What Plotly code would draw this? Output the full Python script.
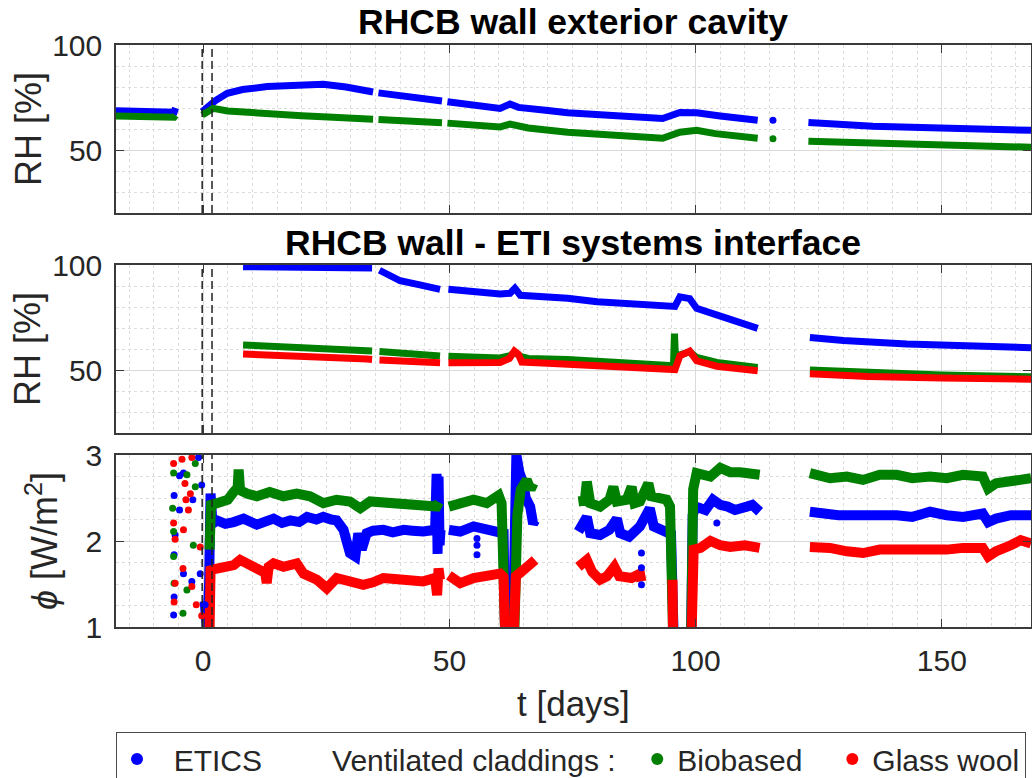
import plotly.graph_objects as go

# ---------------- data ----------------
# Top panel: RHCB wall exterior cavity, RH [%]
top_etics_t = [-17.7, -12, -7, -5.9, -5.6, None, -0.2, 1, 2.5, 4.9, 8, 13, 19.7, 24.4, 29, 34.5, None,
               35.6, 42, 48.5, None, 49.6, 55, 60.3, 62.3, 64, 70, 74, 84, 93.3, 96.8, 100.2, 105, 112.6, None,
               122.9, 136, 149.7, 168.1]
top_etics_rh = [68.7, 68.2, 67.8, 68.0, 70.0, None, 68.2, 70.5, 73.5, 77.0, 78.8, 80.2, 81.3, 81.3, 80.0, 77.6, None,
                77.2, 75.2, 73.3, None, 73.0, 71.5, 69.8, 71.9, 70.3, 68.8, 67.7, 66.3, 65.0, 67.9, 67.7, 66.2, 64.2, None,
                63.1, 61.3, 60.5, 59.4]
top_bio_t = [-17.7, -12, -7, -5.9, -5.6, None, -0.2, 2, 5, 8, 13, 20, 26.4, 34.5, None, 35.6, 42, 48.5, None,
             49.6, 55, 60.3, 62.3, 66, 74, 84, 93.3, 96.8, 100.2, 104, 112.6, None, 122.9, 136, 149.7, 168.1]
top_bio_rh = [66.2, 66.0, 65.8, 65.6, 66.5, None, 66.7, 69.8, 68.6, 68.0, 67.1, 66.3, 65.6, 64.6, None, 64.5, 63.8, 63.0, None,
              62.8, 61.8, 61.0, 62.3, 60.5, 58.5, 57.0, 55.6, 58.5, 59.4, 57.8, 55.6, None, 54.2, 53.2, 52.1, 51.3]
top_dot_t = [115.7]
top_dot_etics = [64.2]
top_dot_bio = [55.3]

# Middle panel: RHCB wall - ETI systems interface, RH [%]
mid_etics_t = [8.1, 20, 33.3, 34.3, None, 35.8, 36.5, 38, 40, 44, 48.1, None, 49.8, 55, 60.3, 62.3, 63.3, 64.4,
               70, 74, 80, 88, 93.3, 95.8, 96.8, 98.8, 100.2, 102, 104.3, 108, 112.6, None, 123.2, 130, 142.9, 155, 168.1]
mid_etics_rh = [99.2, 99.2, 99.2, 98.6, None, 97.5, 96.8, 94.5, 92.5, 90.5, 88.4, None, 88.4, 87.2, 86.2, 86.5, 88.9, 85.6,
                84.8, 84.2, 82.5, 81.2, 80.0, 80.3, 84.8, 84.0, 79.4, 78.0, 76.3, 73.5, 69.8, None, 65.5, 64.0, 62.4, 61.3, 60.6]
mid_bio_t = [8.1, 20, 33.3, 34.3, None, 35.8, 40, 48.1, None, 49.8, 55, 60.3, 62.3, 63.3, 64.4, 66, 74, 85,
             93.3, 95.5, 95.7, 95.9, 96.8, 98.8, 100.2, 104.3, 112.6, None, 123.2, 135, 150, 168.1]
mid_bio_rh = [61.9, 60.8, 59.2, 59.0, None, 58.8, 58.0, 56.7, None, 56.6, 56.0, 55.7, 56.8, 58.5, 56.5, 55.5, 55.0, 53.5,
              51.8, 52.0, 67.3, 56.5, 57.2, 58.6, 56.0, 53.6, 51.2, None, 50.0, 48.6, 47.6, 46.8]
mid_glass_t = [8.1, 20, 33.3, 34.3, None, 35.8, 40, 48.1, None, 49.8, 55, 60.3, 62.2, 63.2, 64.0, 64.7, 70, 79.9,
               88, 93.3, 95.8, 96.8, 98.8, 100.2, 102, 104.3, 112.6, None, 123.2, 135, 150, 168.1]
mid_glass_rh = [57.6, 56.8, 55.2, 55.0, None, 54.8, 54.2, 53.4, None, 53.4, 53.6, 53.6, 55.5, 59.0, 57.5, 53.8, 53.2, 51.8,
                50.6, 49.8, 50.2, 56.8, 59.0, 54.4, 53.0, 51.8, 49.6, None, 48.2, 46.9, 46.2, 45.6]

# Bottom panel: heat flux phi [W/m2]
bot_etics_t = [0.3, 0.8, 1.2, 1.5, 1.9, 2.8, 4.5, 6.2, 8.2, 10.9, 12.5, 14.3, 16, 17.7, 19.5, 21.1, 23, 24.4, 26, 27.1,
               28.5, 29.8, 30.9, 31.5, 32.2, 33.2, 34.5, 36.6, 38.5, 40.7, 42.5, 44.7, 47.1, 47.4, 47.6, 47.8, 48.0, 48.2, None,
               49.9, 52.2, 54.9, 57.6, 60.3, 61.0, 61.3, None,
               62.9, 63.3, 63.6, 64.2, 65.0, 65.5, 66.4, 67.0, 67.4, None,
               76.2, 77.9, 78.6, 80.6, 82.5, 84.0, 84.7, 86.5, 88.7, 90.7, 91.5, 94.1, 95.0, 95.5, None,
               99.1, 99.4, 100, 102, 103.5, 105, 106.5, 108, 110.4, 111.5, 113, None,
               123.2, 125, 127.3, 129, 130.7, 134, 137.4, 140.8, 144, 147.6, 151, 154.3, 158.3, 159.4, 161, 164, 168.1]
bot_etics_phi = [1.30, 0.97, 1.50, 2.55, 2.20, 2.24, 2.20, 2.22, 2.26, 2.19, 2.23, 2.26, 2.21, 2.24, 2.22, 2.28, 2.25, 2.28, 2.25, 2.24,
                 2.13, 1.86, 1.82, 2.09, 1.90, 2.09, 2.12, 2.13, 2.10, 2.13, 2.12, 2.11, 2.13, 2.78, 1.85, 2.75, 1.95, 2.13, None,
                 2.13, 2.11, 2.17, 2.13, 2.11, 2.09, 0.97, None,
                 0.97, 2.30, 3.00, 2.80, 2.67, 2.50, 2.40, 2.20, 2.24, None,
                 2.11, 2.28, 2.09, 2.07, 2.13, 2.26, 2.09, 2.05, 2.17, 2.38, 2.17, 2.09, 2.08, 0.97, None,
                 0.97, 2.30, 2.40, 2.36, 2.48, 2.42, 2.40, 2.36, 2.40, 2.42, 2.34, None,
                 2.34, 2.32, 2.32, 2.30, 2.30, 2.30, 2.32, 2.30, 2.28, 2.34, 2.30, 2.28, 2.32, 2.22, 2.26, 2.30, 2.30]
bot_bio_t = [1.3, 1.6, 2.8, 5, 6.2, 7.0, 7.2, 7.5, 9, 10.9, 13.5, 16.3, 19, 21.7, 24.4, 27.1, 29.8, 31.9, 33.9, 38, 42,
             46.1, 47.4, 47.9, None,
             49.9, 52.2, 54.9, 57.6, 60.0, 60.6, 61.3, None,
             63.2, 63.8, 64.5, 65.7, 66.5, 67.1, None,
             76.2, 77.5, 77.9, 78.6, 80.6, 82.5, 83.3, 84.0, 86.0, 87.0, 87.6, 88.7, 90.4, 91.0, 94.1, 94.8, 95.4, None,
             99.1, 99.5, 100.2, 102, 103, 105, 107, 109, 111, 113, None,
             123.2, 125, 127.3, 130.7, 134, 137.4, 140.8, 144, 147.6, 151, 154.3, 158.3, 159.4, 161, 164, 168.1]
bot_bio_phi = [1.90, 2.42, 2.44, 2.48, 2.57, 2.62, 2.83, 2.59, 2.55, 2.52, 2.57, 2.52, 2.55, 2.52, 2.44, 2.48, 2.46, 2.38, 2.46, 2.44, 2.42,
               2.38, 2.40, 2.45, None,
               2.40, 2.44, 2.48, 2.44, 2.53, 2.44, 0.97, None,
               0.97, 2.30, 2.60, 2.71, 2.60, 2.67, None,
               2.46, 2.47, 2.69, 2.44, 2.40, 2.48, 2.63, 2.46, 2.48, 2.63, 2.44, 2.46, 2.67, 2.52, 2.48, 2.40, 0.97, None,
               0.97, 2.60, 2.79, 2.78, 2.75, 2.85, 2.80, 2.80, 2.78, 2.77, None,
               2.79, 2.77, 2.73, 2.75, 2.71, 2.77, 2.77, 2.73, 2.75, 2.73, 2.77, 2.75, 2.61, 2.67, 2.69, 2.73]
bot_glass_t = [1.3, 1.5, 2.8, 4.8, 6.2, 7.5, 9.5, 11.6, 12.6, 12.9, 13.3, 14.3, 16.3, 19, 20.4, 23.1, 25.1, 27.1, 29.8, 32.5,
               34.5, 36.6, 40.7, 44.7, 47.1, 47.5, 47.8, 48.1, None,
               49.9, 52.2, 54.9, 57.6, 60.3, 61.0, 61.3, None,
               63.1, 63.5, 65.0, 66.0, 67.4, None,
               76.2, 77.9, 79.0, 80.6, 82.0, 83.5, 84.5, 87.0, 88.7, 89.0, None,
               95.3, 95.4, None,
               99.2, 99.6, 101, 103, 105, 107, 110, 113, None,
               123.2, 127.3, 130.7, 134, 137.4, 140.8, 144, 147.6, 151, 154.3, 158.3, 159.4, 161, 164, 166, 168.1]
bot_glass_phi = [0.97, 1.66, 1.68, 1.70, 1.72, 1.78, 1.72, 1.66, 1.63, 1.51, 1.70, 1.74, 1.70, 1.74, 1.62, 1.55, 1.45, 1.57, 1.53, 1.49,
                 1.52, 1.57, 1.55, 1.53, 1.57, 1.37, 1.68, 1.55, None,
                 1.60, 1.51, 1.57, 1.59, 1.62, 1.58, 0.97, None,
                 0.97, 1.59, 1.66, 1.72, 1.78, None,
                 1.70, 1.78, 1.64, 1.55, 1.59, 1.70, 1.59, 1.57, 1.62, 1.53, None,
                 1.55, 0.97, None,
                 0.97, 1.90, 1.92, 2.00, 1.95, 1.93, 1.95, 1.92, None,
                 1.93, 1.92, 1.88, 1.86, 1.90, 1.90, 1.88, 1.88, 1.90, 1.92, 1.92, 1.82, 1.88, 1.95, 2.01, 1.97]

# isolated scattered points (before t = 0 and a few outliers)
sc_etics_t = [-4.8, -4.0, -0.95, -0.3, -5.9, -4.8, -2.1, -5.7, -5.9, -4.0, -5.9, -2.3, -6.0, -0.6, 0.4,
              55.6, 55.6, 55.6, 89.0, 89.0, 89.0, 104.3]
sc_etics_phi = [2.76, 2.79, 2.97, 2.65, 2.53, 2.36, 2.48, 2.07, 1.84, 1.62, 1.35, 1.53, 1.14, 1.62, 1.26,
                2.03, 1.95, 1.84, 1.86, 1.69, 1.49, 2.21]
sc_bio_t = [-6.0, -3.3, -1.6, -1.6, -6.2, -6.0, -2.0, -6.0, -5.9, -3.3, -4.1]
sc_bio_phi = [2.79, 2.77, 2.90, 2.63, 2.38, 2.11, 1.95, 1.82, 1.51, 1.43, 1.16]
sc_glass_t = [-6.0, -4.3, -2.3, -3.7, -2.6, -3.5, -3.0, -6.0, -5.7, -4.0, -0.6, -4.1, -5.7, -2.3, -5.9, -1.4, -0.3]
sc_glass_phi = [2.90, 2.95, 2.97, 2.67, 2.55, 2.48, 2.36, 2.21, 2.02, 2.13, 1.93, 1.68, 1.51, 1.47, 1.29, 1.26, 1.13]

dash_t = [-0.2, 1.8]
x_range = [-17.7, 168.1]
x_ticks = [0, 50, 100, 150]
rh_ticks = [50, 100]
phi_ticks = [1, 2, 3]
legend_names = ["ETICS", "Ventilated claddings :", "Biobased", "Glass wool"]

# ---------------- styling ----------------
BLUE, GREEN, RED = "#0000ff", "#008000", "#ff0000"
FONT = "Liberation Sans, Arial, sans-serif"
FRAME = "#3a3a3a"
TXT = "#262626"
W, H = 1032, 778
L_PX, R_PX = 116, 1031


def py(px):
    return 1 - px / H


def px_x(px):
    return (px - L_PX) / (R_PX - L_PX)


fig = go.Figure()


def line(t, v, color, width, ax):
    xa, ya = ax
    fig.add_trace(go.Scatter(x=t, y=v, mode="lines", line=dict(color=color, width=width),
                             xaxis=xa, yaxis=ya, showlegend=False, hoverinfo="skip", connectgaps=False))


def dots(t, v, color, ax, size=7):
    xa, ya = ax
    fig.add_trace(go.Scatter(x=t, y=v, mode="markers", marker=dict(color=color, size=size),
                             xaxis=xa, yaxis=ya, showlegend=False, hoverinfo="skip", cliponaxis=True))


A1, A2, A3 = ("x", "y"), ("x2", "y2"), ("x3", "y3")
# top
line(top_etics_t, top_etics_rh, BLUE, 7, A1)
line(top_bio_t, top_bio_rh, GREEN, 7, A1)
dots(top_dot_t, top_dot_etics, BLUE, A1)
dots(top_dot_t, top_dot_bio, GREEN, A1)
# middle
line(mid_etics_t, mid_etics_rh, BLUE, 7, A2)
line(mid_bio_t, mid_bio_rh, GREEN, 7, A2)
line(mid_glass_t, mid_glass_rh, RED, 7, A2)
# bottom
line(bot_etics_t, bot_etics_phi, BLUE, 10, A3)
line(bot_bio_t, bot_bio_phi, GREEN, 10, A3)
line(bot_glass_t, bot_glass_phi, RED, 10, A3)
dots(sc_etics_t, sc_etics_phi, BLUE, A3)
dots(sc_bio_t, sc_bio_phi, GREEN, A3)
dots(sc_glass_t, sc_glass_phi, RED, A3)

# legend entries (non-breaking spaces reproduce the reference spacing between entries)
NB = "\u00a0"
legend_labels = [NB * 2 + legend_names[0],
                 NB * 3 + legend_names[1] + NB * 2,
                 legend_names[2] + NB * 3,
                 legend_names[3]]
for name, col in zip(legend_labels, [BLUE, "rgba(0,0,0,0)", GREEN, RED]):
    fig.add_trace(go.Scatter(x=[None], y=[None], mode="markers", name=name,
                             marker=dict(color=col, size=13), xaxis="x3", yaxis="y3"))

# dashed reference lines
shapes = []
for xa, ya in [A1, A2, A3]:
    for t in dash_t:
        shapes.append(dict(type="line", xref=xa, x0=t, x1=t, yref=f"{ya} domain", y0=0, y1=1,
                           line=dict(color="#222222", width=1.5, dash="8px,4px"), layer="above"))

xbase = dict(range=x_range, tickvals=x_ticks, ticks="inside", ticklen=8, tickcolor=FRAME, tickwidth=1,
             showline=True, mirror="ticks", linecolor=FRAME, linewidth=1.5, zeroline=False,
             showgrid=True, gridcolor="#dadada", gridwidth=1,
             minor=dict(dtick=5, tick0=0, showgrid=True, gridcolor="#dcdcdc", griddash="dot", gridwidth=1),
             tickfont=dict(family=FONT, size=30, color=TXT), domain=[0, 1])
ybase = dict(ticks="inside", ticklen=8, tickcolor=FRAME, tickwidth=1,
             showline=True, mirror="ticks", linecolor=FRAME, linewidth=1.5, zeroline=False,
             showgrid=True, gridcolor="#dadada", gridwidth=1,
             tickfont=dict(family=FONT, size=30, color=TXT), ticklabelstandoff=6)

fig.update_layout(
    width=W, height=H, margin=dict(l=L_PX, r=W - R_PX, t=0, b=0, autoexpand=False),
    paper_bgcolor="white", plot_bgcolor="white",
    xaxis=dict(xbase, anchor="y", showticklabels=False),
    xaxis2=dict(xbase, anchor="y2", showticklabels=False),
    xaxis3=dict(xbase, anchor="y3", showticklabels=True, ticklabelstandoff=6),
    yaxis=dict(ybase, range=[20, 100], tickvals=rh_ticks, anchor="x", domain=[py(213), py(45)],
               minor=dict(dtick=10, tick0=0, showgrid=True, gridcolor="#dcdcdc", griddash="dot")),
    yaxis2=dict(ybase, range=[20, 100], tickvals=rh_ticks, anchor="x2", domain=[py(433), py(265)],
                minor=dict(dtick=10, tick0=0, showgrid=True, gridcolor="#dcdcdc", griddash="dot")),
    yaxis3=dict(ybase, range=[1, 3], tickvals=phi_ticks, anchor="x3", domain=[py(627), py(455)],
                minor=dict(dtick=0.25, tick0=0, showgrid=True, gridcolor="#dcdcdc", griddash="dot")),
    shapes=shapes,
    showlegend=True,
    legend=dict(orientation="h", x=0, xanchor="left", y=py(732), yanchor="top",
                bordercolor="#4a4a4a", borderwidth=1, bgcolor="white",
                font=dict(family=FONT, size=30, color=TXT), itemsizing="constant"),
)

ann = [
    dict(text="<b>RHCB wall exterior cavity</b>", x=px_x(573), y=py(22), font=dict(size=35.5)),
    dict(text="<b>RHCB wall - ETI systems interface</b>", x=px_x(573), y=py(243), font=dict(size=35.5)),
    dict(text="t [days]", x=px_x(573), y=py(703), font=dict(size=35, color=TXT)),
    dict(text="RH [%]", x=px_x(28), y=py(129), textangle=-90, font=dict(size=36, color=TXT)),
    dict(text="RH [%]", x=px_x(28), y=py(349), textangle=-90, font=dict(size=36, color=TXT)),
    dict(text="<i>ϕ</i> [W/m<sup>2</sup>]", x=px_x(42), y=py(541), textangle=-90, font=dict(size=36, color=TXT)),
]
for a in ann:
    f = dict(family=FONT, color="black")
    f.update(a.pop("font"))
    fig.add_annotation(xref="paper", yref="paper", showarrow=False, xanchor="center", yanchor="middle",
                       font=f, **a)

fig.write_html("out.html")
